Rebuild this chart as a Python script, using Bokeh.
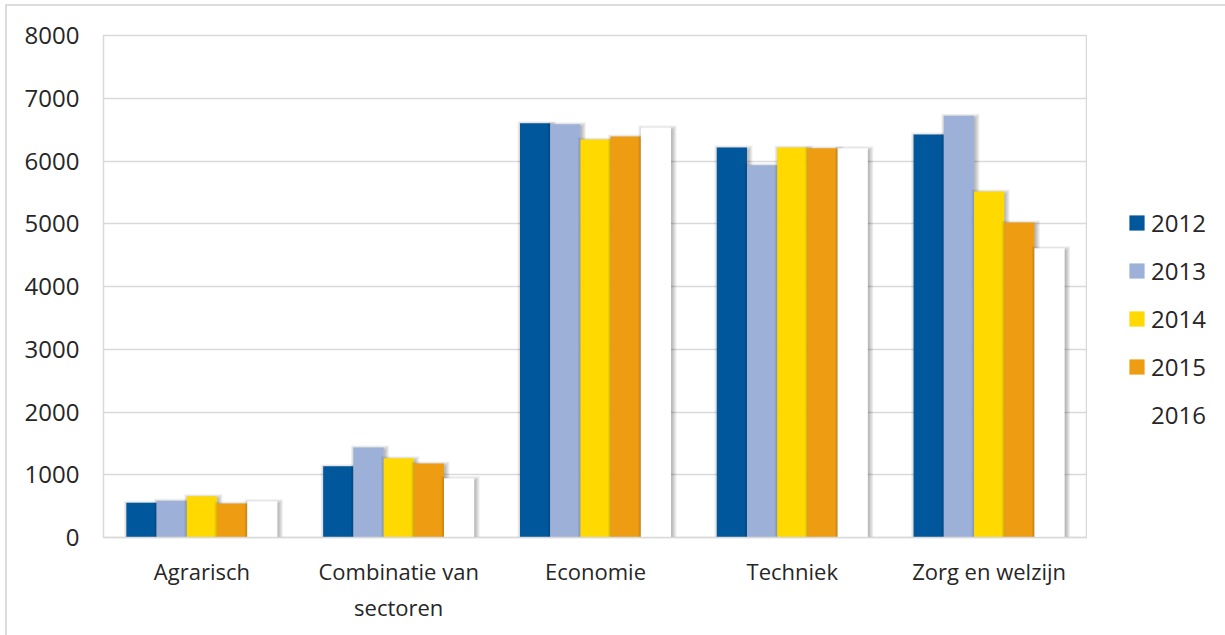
from bokeh.plotting import figure
from bokeh.layouts import row
from bokeh.models import Range1d, FixedTicker, Legend, LegendItem, ColumnDataSource
from bokeh.embed import file_html
from bokeh.resources import INLINE

# Number of students per sector, 2012-2016
sectors = ["Agrarisch", "Combinatie van\nsectoren", "Economie", "Techniek", "Zorg en welzijn"]
years = ["2012", "2013", "2014", "2015", "2016"]
v2012 = [553, 1136, 6602, 6215, 6422]
v2013 = [585, 1434, 6586, 5933, 6720]
v2014 = [658, 1264, 6343, 6215, 5514]
v2015 = [542, 1179, 6390, 6204, 5020]
v2016 = [578, 945, 6534, 6204, 4610]
series = [v2012, v2013, v2014, v2015, v2016]
colors = ["#00579C", "#9DB1D8", "#FFD900", "#EE9C12", "#FFFFFF"]
y_ticks = [0, 1000, 2000, 3000, 4000, 5000, 6000, 7000, 8000]

FONT = "Open Sans"
TEXT = "#262626"
GRID = "#d9d9d9"

W, H = 1225, 635
LEG_W = 138
ML, MT, MB = 103, 35, 98
PW = W - LEG_W
frame_w = PW - ML
frame_h = H - MT - MB
x_max, y_max = len(sectors), 8000
px_x = x_max / frame_w          # data units per screen pixel
px_y = y_max / frame_h

bar_w = 0.1535

p = figure(width=PW, height=H, output_backend="svg", toolbar_location=None,
           x_range=Range1d(0, x_max), y_range=Range1d(0, y_max),
           min_border_left=ML, min_border_top=MT, min_border_right=0, min_border_bottom=MB)
p.border_fill_color = None
p.background_fill_color = "white"
p.outline_line_color = GRID
p.outline_line_width = 1.5

p.xgrid.visible = False
p.ygrid.grid_line_color = GRID
p.ygrid.grid_line_width = 1.5
p.ygrid.ticker = FixedTicker(ticks=y_ticks)

centers = [i + 0.5 for i in range(len(sectors))]
p.xaxis.ticker = FixedTicker(ticks=centers)
p.xaxis.major_label_overrides = {c: s for c, s in zip(centers, sectors)}
p.yaxis.ticker = FixedTicker(ticks=y_ticks)

for ax in (p.xaxis, p.yaxis):
    ax.major_label_text_font = FONT
    ax.major_label_text_color = TEXT
    ax.major_tick_line_color = None
    ax.minor_tick_line_color = None
    ax.major_tick_out = 0
    ax.major_tick_in = 0
p.xaxis.major_label_text_font_size = "22px"
p.yaxis.major_label_text_font_size = "24px"
p.xaxis.axis_line_color = GRID
p.xaxis.axis_line_width = 1.5
p.yaxis.axis_line_color = None
p.xaxis.major_label_standoff = 18
p.yaxis.major_label_standoff = 24

# soft drop shadow, then the bar, series by series
sh_dx, sh_dy = 1.5, 2.0
for i, (year, vals, col) in enumerate(zip(years, series, colors)):
    xs = [c + (i - 2) * bar_w for c in centers]
    for e in [0, 1, 2, 3, 4]:
        src = ColumnDataSource(dict(
            left=[x - bar_w / 2 + (sh_dx - e) * px_x for x in xs],
            right=[x + bar_w / 2 + (sh_dx + e) * px_x for x in xs],
            top=[v + (-sh_dy + e) * px_y for v in vals],
            bottom=[0 for _ in vals],
        ))
        p.quad(left="left", right="right", top="top", bottom="bottom", source=src,
               fill_color="black", fill_alpha=0.06, line_color=None)
    p.vbar(x=xs, top=vals, width=bar_w, fill_color=col, line_color=None)

# legend panel on the right; its swatches come from a zero-height bar per year
lp = figure(width=LEG_W, height=H, output_backend="svg", toolbar_location=None,
            x_range=Range1d(0, 1), y_range=Range1d(0, 1),
            min_border=0, x_axis_type=None, y_axis_type=None)
lp.border_fill_color = None
lp.background_fill_color = None
lp.outline_line_color = None
lp.xgrid.visible = False
lp.ygrid.visible = False
key_src = ColumnDataSource(dict(x=[0.5 for _ in years], top=[0 for _ in years],
                                year=years, color=colors))
key_r = lp.vbar(x="x", top="top", width=0.1, fill_color="color", line_color=None,
                source=key_src)
items = [LegendItem(label=y, renderers=[key_r], index=i) for i, y in enumerate(years)]

legend = Legend(items=items, location=(40, 106), orientation="vertical",
                label_text_font=FONT, label_text_font_size="24px", label_text_color=TEXT,
                glyph_width=19, glyph_height=19, label_height=24, spacing=15,
                label_standoff=5, padding=0, margin=0,
                border_line_color=None, background_fill_alpha=0)
lp.add_layout(legend, "center")

layout = row(p, lp, width=W, height=H)
layout.styles = {
    "background": ("linear-gradient(#dcdcdc,#dcdcdc) 5px 4px / 2px 100% no-repeat, "
                   "linear-gradient(#dcdcdc,#dcdcdc) 5px 4px / 100% 2px no-repeat, white"),
}

open("out.html", "w").write(file_html(layout, INLINE))
